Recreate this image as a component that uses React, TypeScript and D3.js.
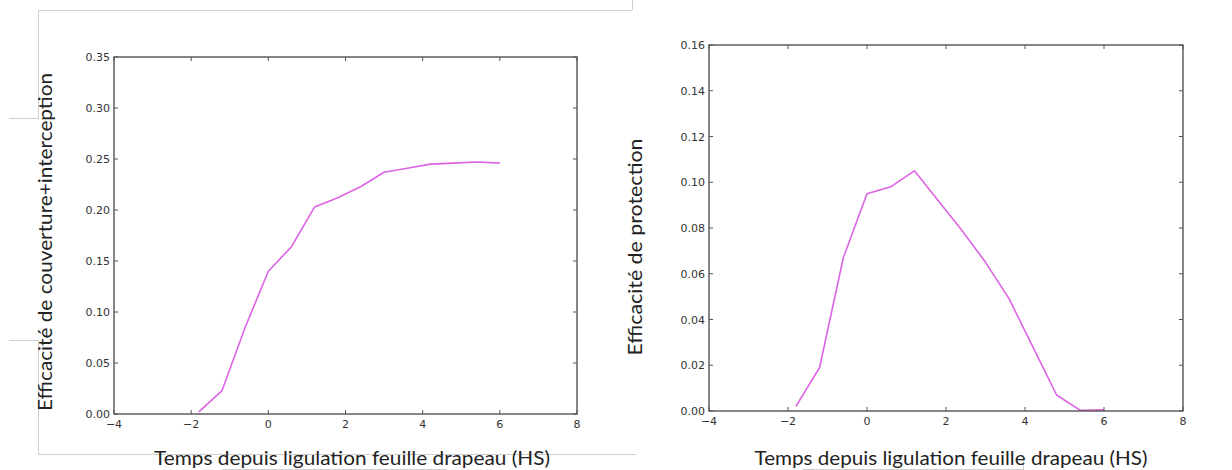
import React from "react";
import * as d3 from "d3";

// HS values (time since flag leaf ligulation)
const hs = [-1.8, -1.2, -0.6, 0, 0.6, 1.2, 1.8, 2.4, 3.0, 3.6, 4.2, 4.8, 5.4, 6.0];
// Left: coverage + interception efficiency
const couverture = [0.002, 0.023, 0.085, 0.14, 0.164, 0.203, 0.212, 0.223, 0.237, 0.241, 0.245, 0.246, 0.247, 0.246];
// Right: protection efficiency
const protection = [0.002, 0.019, 0.067, 0.095, 0.098, 0.105, 0.092, 0.079, 0.065, 0.049, 0.028, 0.007, 0.0003, 0.0005];

const xTicks = [-4, -2, 0, 2, 4, 6, 8];
const yTicksLeft = [0, 0.05, 0.1, 0.15, 0.2, 0.25, 0.3, 0.35];
const yTicksRight = [0, 0.02, 0.04, 0.06, 0.08, 0.1, 0.12, 0.14, 0.16];

const xTitle = "Temps depuis ligulation feuille drapeau (HS)";
const yTitleLeft = "Efficacité de couverture+interception";
const yTitleRight = "Efficacité de protection";

const LINE = "#dc64e4";
const AXIS = "#555";
const TICKTXT = "#333";
const TITLE_FONT = "Lato, 'Open Sans', sans-serif";

function fmtX(v: number) {
  return v < 0 ? "\u2212" + Math.abs(v) : String(v);
}

type PanelProps = {
  x0: number; x1: number; y0: number; y1: number;
  yMax: number; yTicks: number[]; values: number[];
  yTitle: string; yTitleX: number; yTitleY: number; yTitleLen: number;
  xTitleX: number; xTitleY: number; xTitleLen: number;
};

function Panel(p: PanelProps) {
  const x = d3.scaleLinear().domain([-4, 8]).range([p.x0, p.x1]);
  const y = d3.scaleLinear().domain([0, p.yMax]).range([p.y1, p.y0]);
  const line = d3.line<number>().x((_, i) => x(hs[i])).y((v) => y(v));
  const tl = 4;
  return (
    <g>
      <path d={line(p.values) || ""} fill="none" stroke={LINE} strokeWidth={1.6} strokeLinejoin="round" />
      <rect x={p.x0} y={p.y0} width={p.x1 - p.x0} height={p.y1 - p.y0} fill="none" stroke={AXIS} strokeWidth={1.4} />
      {xTicks.map((t) => (
        <g key={"x" + t}>
          <line x1={x(t)} x2={x(t)} y1={p.y1} y2={p.y1 - tl} stroke={AXIS} strokeWidth={1} />
          <line x1={x(t)} x2={x(t)} y1={p.y0} y2={p.y0 + tl} stroke={AXIS} strokeWidth={1} />
          <text x={x(t)} y={p.y1 + 14} textAnchor="middle" fontFamily="DejaVu Sans" fontSize={11} fill={TICKTXT}>
            {fmtX(t)}
          </text>
        </g>
      ))}
      {p.yTicks.map((t) => (
        <g key={"y" + t}>
          <line x1={p.x0} x2={p.x0 + tl} y1={y(t)} y2={y(t)} stroke={AXIS} strokeWidth={1} />
          <line x1={p.x1} x2={p.x1 - tl} y1={y(t)} y2={y(t)} stroke={AXIS} strokeWidth={1} />
          <text x={p.x0 - 4} y={y(t) + 4} textAnchor="end" fontFamily="DejaVu Sans" fontSize={11} fill={TICKTXT}>
            {t.toFixed(2)}
          </text>
        </g>
      ))}
      <text
        transform={`translate(${p.yTitleX},${p.yTitleY}) rotate(-90)`}
        textAnchor="middle"
        fontFamily={TITLE_FONT}
        fontSize={20}
        fill="#222"
        textLength={p.yTitleLen}
        lengthAdjust="spacingAndGlyphs"
      >
        {p.yTitle}
      </text>
      <text
        x={p.xTitleX}
        y={p.xTitleY}
        textAnchor="middle"
        fontFamily={TITLE_FONT}
        fontSize={20}
        fill="#222"
        textLength={p.xTitleLen}
        lengthAdjust="spacingAndGlyphs"
      >
        {xTitle}
      </text>
    </g>
  );
}

export default function App() {
  return (
    <svg width={1232} height={470} style={{ position: "absolute", left: 0, top: 0, background: "#fff" }}>
      {/* document frame lines */}
      <g stroke="#cfcfcf" strokeWidth={1} fill="none">
        <line x1={38} y1={10.5} x2={632} y2={10.5} />
        <line x1={632.5} y1={0} x2={632.5} y2={10} />
        <line x1={38.5} y1={10} x2={38.5} y2={120} />
        <line x1={38.5} y1={340} x2={38.5} y2={454} />
        <line x1={9} y1={118.5} x2={38} y2={118.5} />
        <line x1={9} y1={340.5} x2={38} y2={340.5} />
        <line x1={38} y1={454.5} x2={636} y2={454.5} />
        <line x1={223} y1={469.5} x2={447} y2={469.5} />
        <line x1={803} y1={469.5} x2={1023} y2={469.5} />
        <line x1={1023.5} y1={458} x2={1023.5} y2={470} />
      </g>
      <Panel
        x0={114} x1={577} y0={57} y1={414}
        yMax={0.35} yTicks={yTicksLeft} values={couverture}
        yTitle={yTitleLeft} yTitleX={52} yTitleY={242} yTitleLen={338}
        xTitleX={352} xTitleY={465} xTitleLen={396}
      />
      <Panel
        x0={709} x1={1183} y0={45} y1={411}
        yMax={0.16} yTicks={yTicksRight} values={protection}
        yTitle={yTitleRight} yTitleX={642} yTitleY={247} yTitleLen={217}
        xTitleX={951} xTitleY={465} xTitleLen={393}
      />
    </svg>
  );
}
